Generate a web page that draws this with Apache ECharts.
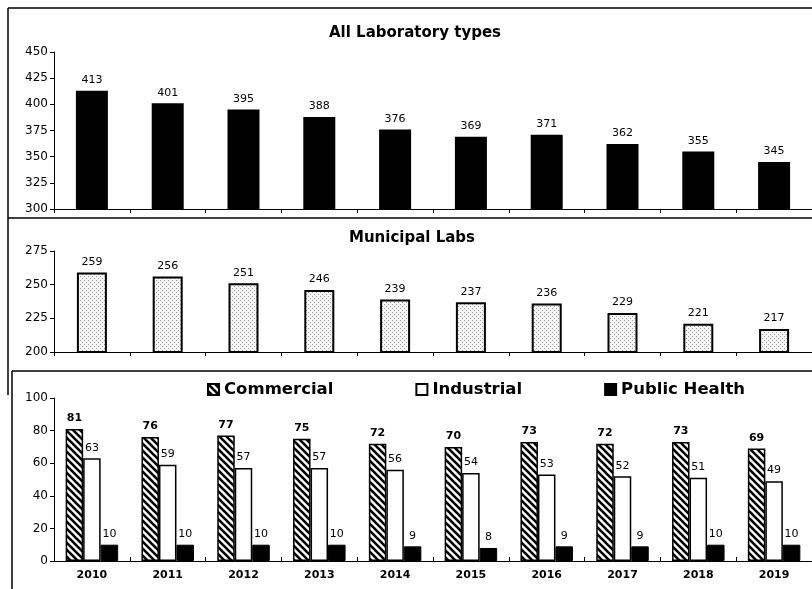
<!DOCTYPE html>
<html>
<head>
<meta charset="utf-8">
<script src="https://cdn.jsdelivr.net/npm/echarts@6/dist/echarts.min.js"></script>
<style>html,body{margin:0;padding:0;background:#fff}#c{width:812px;height:589px}</style>
</head>
<body>
<div id="c"></div>
<script>
const years = ['2010','2011','2012','2013','2014','2015','2016','2017','2018','2019'];
const allLabs = [413,401,395,388,376,369,371,362,355,345];
const municipal = [259,256,251,246,239,237,236,229,221,217];
const commercial = [81,76,77,75,72,70,73,72,73,69];
const industrial = [63,59,57,57,56,54,53,52,51,49];
const publicHealth = [10,10,10,10,9,8,9,9,10,10];
const allTicks = {min:300, max:450, interval:25};
const munTicks = {min:200, max:275, interval:25};
const typeTicks = {min:0, max:100, interval:20};

function hatchCanvas(){
  const s = 7, c = document.createElement('canvas');
  c.width = s; c.height = s;
  const g = c.getContext('2d');
  g.fillStyle = '#fff'; g.fillRect(0,0,s,s);
  g.strokeStyle = '#000'; g.lineWidth = 2.6;
  for (const k of [-1,0,1]) {
    g.beginPath(); g.moveTo(-1, k*s-1); g.lineTo(s+1, s+k*s+1); g.stroke();
  }
  return c;
}
function dotCanvas(){
  const s = 4, c = document.createElement('canvas');
  c.width = s; c.height = s;
  const g = c.getContext('2d');
  g.fillStyle = '#f6f6f6'; g.fillRect(0,0,s,s);
  g.fillStyle = '#999';
  g.fillRect(0,0,1,1); g.fillRect(2,2,1,1);
  return c;
}
const hatch = {image: hatchCanvas(), repeat: 'repeat'};
const dots = {image: dotCanvas(), repeat: 'repeat'};

const F = 'DejaVu Sans';
const chart = echarts.init(document.getElementById('c'), null, {renderer:'canvas'});
const gridW = 769, gridL = 54;
function xAx(idx, showLabel, tickInside){
  return {type:'category', gridIndex:idx, data:years,
    axisLine:{lineStyle:{color:'#000', width:1}},
    axisTick:{show:true, inside:tickInside, length:4, lineStyle:{color:'#000'}},
    axisLabel:{show:showLabel, color:'#000', fontFamily:F, fontWeight:'bold', fontSize:11, margin:9},
    splitLine:{show:false}};
}
function yAx(idx, t){
  return {type:'value', gridIndex:idx, min:t.min, max:t.max, interval:t.interval,
    axisLine:{show:true, lineStyle:{color:'#000', width:1}},
    axisTick:{show:true, length:4, lineStyle:{color:'#000'}},
    axisLabel:{color:'#000', fontFamily:F, fontSize:12, margin:6},
    splitLine:{show:false}};
}
const lbl = (bold) => ({show:true, position:'top', distance:5, color:'#000', fontFamily:F, fontSize:11, fontWeight: bold ? 'bold' : 'normal'});
const line = (x1,y1,x2,y2) => ({type:'line', shape:{x1,y1,x2,y2}, style:{stroke:'#000', lineWidth:1.5}, silent:true});

chart.setOption({
  backgroundColor:'#fff',
  animation:false,
  title:[
    {text:'All Laboratory types', left:329, top:26, padding:0, textStyle:{fontFamily:F, fontWeight:'bold', fontSize:15, color:'#000'}},
    {text:'Municipal Labs', left:349, top:231, padding:0, textStyle:{fontFamily:F, fontWeight:'bold', fontSize:15, color:'#000'}}
  ],
  legend:{data:['Commercial','Industrial','Public Health'], left:207, top:381, padding:0,
    itemWidth:11, itemHeight:11, itemGap:82, icon:'rect',
    textStyle:{fontFamily:F, fontWeight:'bold', fontSize:16.5, color:'#000'}},
  grid:[
    {left:gridL, width:gridW, top:52, height:157},
    {left:gridL, width:gridW, top:251, height:101},
    {left:gridL, width:gridW, top:398, height:163}
  ],
  xAxis:[xAx(0,false,false), xAx(1,false,false), xAx(2,true,true)],
  yAxis:[yAx(0,allTicks), yAx(1,munTicks), yAx(2,typeTicks)],
  series:[
    {name:'All Laboratory types', type:'bar', xAxisIndex:0, yAxisIndex:0, data:allLabs, barWidth:32,
      itemStyle:{color:'#000'}, label:lbl(false)},
    {name:'Municipal Labs', type:'bar', xAxisIndex:1, yAxisIndex:1, data:municipal, barWidth:30,
      itemStyle:{color:dots, borderColor:'#000', borderWidth:2}, label:lbl(false)},
    {name:'Commercial', type:'bar', xAxisIndex:2, yAxisIndex:2, data:commercial, barWidth:17.5, barGap:'0%',
      itemStyle:{color:hatch, borderColor:'#000', borderWidth:1.5}, label:lbl(true)},
    {name:'Industrial', type:'bar', xAxisIndex:2, yAxisIndex:2, data:industrial, barWidth:17.5, barGap:'0%',
      itemStyle:{color:'#fff', borderColor:'#000', borderWidth:1.5}, label:lbl(false)},
    {name:'Public Health', type:'bar', xAxisIndex:2, yAxisIndex:2, data:publicHealth, barWidth:17.5, barGap:'0%',
      itemStyle:{color:'#000', borderColor:'#000', borderWidth:1}, label:lbl(false)}
  ],
  graphic:[
    line(8,8,812,8),
    line(8,8,8,395),
    line(8,218,812,218),
    line(12,371,812,371),
    line(12,371,12,589)
  ]
});
</script>
</body>
</html>
